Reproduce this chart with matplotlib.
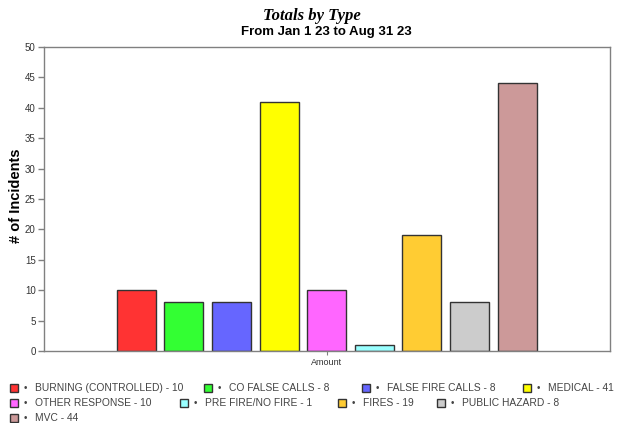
import matplotlib
matplotlib.use("Agg")
from matplotlib import pyplot as plt
from matplotlib.patches import Rectangle

categories = ["BURNING (CONTROLLED)", "CO FALSE CALLS", "FALSE FIRE CALLS", "MEDICAL",
              "OTHER RESPONSE", "PRE FIRE/NO FIRE", "FIRES", "PUBLIC HAZARD", "MVC"]
values = [10, 8, 8, 41, 10, 1, 19, 8, 44]
colors = ["#FF3333", "#33FF33", "#6666FF", "#FFFF00", "#FF66FF",
          "#99FFFF", "#FFCC33", "#CCCCCC", "#CC9999"]
yticks = list(range(0, 51, 5))

# legend entry positions (pixels) in a flowing layout
legend_pos = [(10, 388), (204, 388), (362, 388), (523, 388),
              (10, 403), (180, 403), (338, 403), (437, 403),
              (10, 418)]

plt.rcParams["font.family"] = ["Liberation Sans", "DejaVu Sans"]

W, H = 620, 423
fig = plt.figure(figsize=(W / 100, H / 100), dpi=100)
ax = fig.add_axes([44 / W, 1 - 351 / H, 566 / W, 304 / H])

x = list(range(len(values)))
ax.bar(x, values, width=0.82, color=colors, edgecolor="#333333", linewidth=1)
ax.set_xlim(-1.94, 9.95)
ax.set_ylim(0, 50)
ax.set_yticks(yticks)
ax.tick_params(axis="y", labelsize=7, colors="#808080", labelcolor="#333333",
               length=4, width=1, pad=2)
ax.set_xticks([(len(values) - 1) / 2])
ax.set_xticklabels(["Amount"])
ax.tick_params(axis="x", labelsize=6.5, colors="#808080", labelcolor="#333333", length=3, pad=2)
for s in ax.spines.values():
    s.set_color("#808080")
    s.set_linewidth(1)
ax.set_ylabel("# of Incidents", fontsize=10.5, fontweight="bold")
ax.yaxis.set_label_coords(-21 / 566, 0.51)

fig.text(312 / W, 1 - 16 / H, "Totals by Type", ha="center", va="center",
         fontsize=12, fontweight="bold", fontstyle="italic", family="Liberation Serif")
fig.text(326 / W, 1 - 32 / H, "From Jan 1 23 to Aug 31 23", ha="center", va="center",
         fontsize=9.5, fontweight="bold")

for (px, py), name, v, c in zip(legend_pos, categories, values, colors):
    fig.patches.append(Rectangle((px / W, 1 - (py + 4) / H), 8 / W, 8 / H,
                                 transform=fig.transFigure, facecolor=c,
                                 edgecolor="#333333", linewidth=1))
    fig.text((px + 14) / W, 1 - py / H, "•", ha="left", va="center", fontsize=7, color="#444444")
    fig.text((px + 25) / W, 1 - py / H, f"{name} - {v}", ha="left", va="center",
             fontsize=7.4, color="#444444")

fig.savefig("out.png", dpi=100)
